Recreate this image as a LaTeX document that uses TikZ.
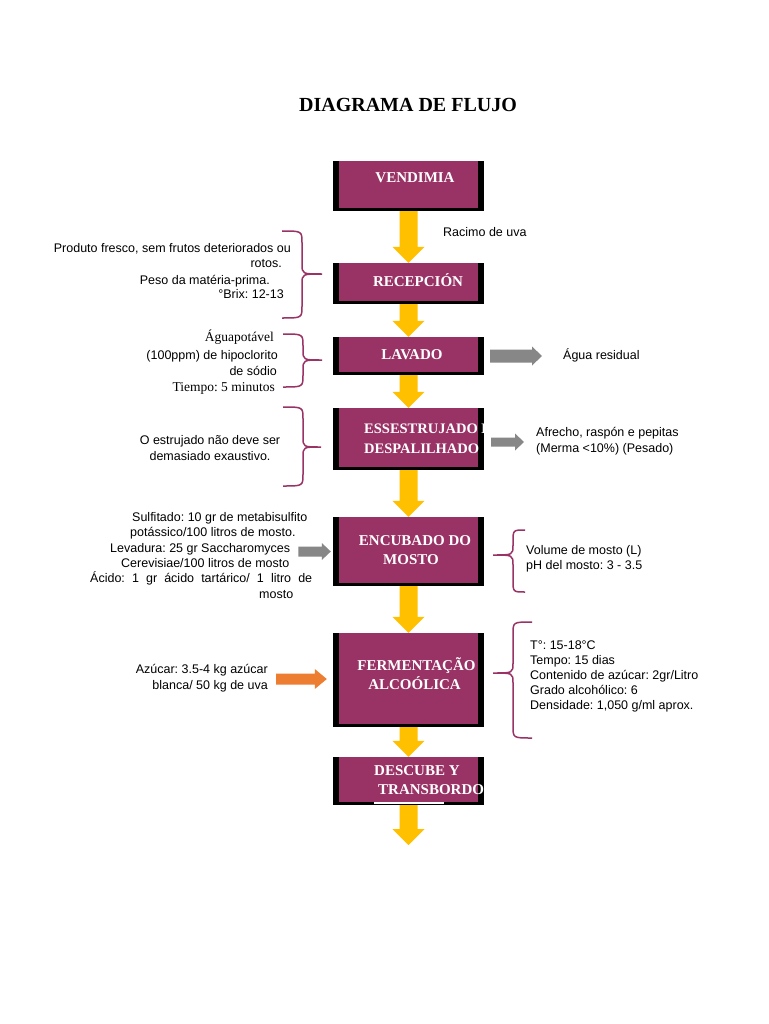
\documentclass[tikz,border=0pt]{standalone}
\usepackage{fontspec}
\setmainfont{Liberation Serif}
\newfontfamily\arialf{Liberation Sans}
\usetikzlibrary{calc}
\definecolor{mag}{RGB}{153,51,102}
\definecolor{yel}{RGB}{255,192,0}
\definecolor{gar}{RGB}{135,135,135}
\definecolor{ora}{RGB}{237,125,49}
\newcommand\yarrow[2]{\fill[yel] let \p1=(#1), \p2=(#2) in (\x1-9pt,\y1) -- (\x1+9pt,\y1) -- (\x1+9pt,\y2+16pt) -- (\x1+16pt,\y2+16pt) -- (\x1,\y2) -- (\x1-16pt,\y2+16pt) -- (\x1-9pt,\y2+16pt) -- cycle;}
\newcommand\harrow[6]{\fill[#1] let \p1=(#2), \p2=(#3) in (\x1,\y1+#4) -- (\x2-#6,\y1+#4) -- (\x2-#6,\y1+#5) -- (\x2,\y1) -- (\x2-#6,\y1-#5) -- (\x2-#6,\y1-#4) -- (\x1,\y1-#4) -- cycle;}
\newcommand\sidebrace[6]{\draw[bracepath] (#1,#4) .. controls (#2,#4) .. (#2,#4+12) -- (#2,#5-10) .. controls (#2,#5) .. (#3,#5) .. controls (#2,#5) .. (#2,#5+10) -- (#2,#6-12) .. controls (#2,#6) .. (#1,#6);}
\frenchspacing
\begin{document}
\frenchspacing
\begin{tikzpicture}[x=1pt,y=-1pt,
 procbox/.style={fill=black, inner sep=0pt, minimum width=151pt, path picture={\fill[mag] ([xshift=6pt]path picture bounding box.north west) rectangle ([xshift=-6pt,yshift=3pt]path picture bounding box.south east);}},
 boxtxt/.style={font=\bfseries\fontsize{15}{18}\selectfont, text=white, inner sep=0pt},
 side/.style={font=\arialf\fontsize{12.5}{15}\selectfont\frenchspacing, inner sep=0pt},
 sideserif/.style={font=\fontsize{13.5}{15}\selectfont\frenchspacing, inner sep=0pt},
 bracepath/.style={draw=mag, line width=1.5pt},
]
\useasboundingbox[fill=white] (0,0) rectangle (768,1024);

\node[font=\bfseries\fontsize{20}{24}\selectfont, anchor=base, inner sep=0pt] (title) at (408,112) {DIAGRAMA DE FLUJO};

% boxes
\node[procbox, minimum height=50pt] (vend) at (408.5,186) {};
\node[procbox, minimum height=41pt] (rec) at (408.5,283.5) {};
\node[procbox, minimum height=38pt] (lav) at (408.5,356) {};
\node[procbox, minimum height=62pt] (ess) at (408.5,439) {};
\node[procbox, minimum height=69pt] (enc) at (408.5,551.5) {};
\node[procbox, minimum height=94pt] (fer) at (408.5,680) {};
\node[procbox, minimum height=48pt] (des) at (408.5,781) {};
\coordinate (endp) at (408.5,845);

% box texts
\node[boxtxt, anchor=base] (vendt) at (415,183) {VENDIMIA};
\node[boxtxt, anchor=base] (rect) at (418,286) {RECEPCIÓN};
\node[boxtxt, anchor=base] (lavt) at (412,359) {LAVADO};
\begin{scope}
\clip (ess.north west) rectangle (ess.south east);
\node[boxtxt, anchor=base west, font=\bfseries\fontsize{14.5}{18}\selectfont] (esst1) at (364,433) {ESSESTRUJADO E};
\node[boxtxt, anchor=base west, font=\bfseries\fontsize{14.5}{18}\selectfont] (esst2) at (364,453) {DESPALILHADO};
\end{scope}
\node[boxtxt, anchor=base] (enct1) at (415,545) {ENCUBADO DO};
\node[boxtxt, anchor=base] (enct2) at (411,564) {MOSTO};
\node[boxtxt, anchor=base] (fert1) at (416.5,670) {FERMENTAÇÃO};
\node[boxtxt, anchor=base] (fert2) at (414.5,689) {ALCOÓLICA};
\begin{scope}
\clip (des.north west) rectangle (des.south east);
\node[boxtxt, anchor=base west] (dest1) at (374,775) {DESCUBE Y};
\node[boxtxt, anchor=base west] (dest2) at (378,794) {TRANSBORDO};
\end{scope}
\draw[white, line width=1.2pt] (374,803) -- (444,803);

% yellow arrows
\yarrow{vend.south}{rec.north}
\yarrow{rec.south}{lav.north}
\yarrow{lav.south}{ess.north}
\yarrow{ess.south}{enc.north}
\yarrow{enc.south}{fer.north}
\yarrow{fer.south}{des.north}
\yarrow{des.south}{endp}

\node[side, anchor=base west] (racimo) at (443,236.5) {Racimo de uva};

% RECEPCION left
\node[side, anchor=base east] (a1) at (291,252.5) {Produto fresco, sem frutos deteriorados ou};
\node[side, anchor=base east] (a2) at (282,267.5) {rotos.};
\node[side, anchor=base east] (a3) at (270,284.5) {Peso da matéria-prima.};
\node[side, anchor=base east] (a4) at (284,298.5) {°Brix: 12-13};
\sidebrace{282}{302}{322}{231}{274}{318}

% LAVADO left
\node[sideserif, anchor=base east] (b1) at (274,341.5) {Águapotável};
\node[side, anchor=base east] (b2) at (278,359.5) {(100ppm) de hipoclorito};
\node[side, anchor=base east] (b3) at (277,375.5) {de sódio};
\node[sideserif, anchor=base east] (b4) at (275,391) {Tiempo: 5 minutos};
\sidebrace{283}{303}{322}{334}{360}{387}

% LAVADO right
\node[side, anchor=base west] (agua) at (563,359) {Água residual};
\harrow{gar}{[xshift=6pt]lav.east}{[xshift=-21pt]agua.west}{6.5pt}{9.5pt}{10pt}

% ESSESTRUJADO left
\node[side, anchor=base] (c1) at (210,444.5) {O estrujado não deve ser};
\node[side, anchor=base] (c2) at (210,460.5) {demasiado exaustivo.};
\sidebrace{283}{303}{321}{407}{447}{486}

% ESSESTRUJADO right
\node[side, anchor=base west] (e1) at (536,436.5) {Afrecho, raspón e pepitas};
\node[side, anchor=base west] (e2) at (536,452.5) {(Merma <10\%) (Pesado)};
\harrow{gar}{[xshift=7pt,yshift=-3pt]ess.east}{[xshift=-12pt,yshift=-3pt]ess.east -| e1.west}{4.5pt}{8.5pt}{9pt}

% ENCUBADO left
\node[side, anchor=base west] (d1) at (132,521.5) {Sulfitado: 10 gr de metabisulfito};
\node[side, anchor=base west] (d2) at (130,536.5) {potássico/100 litros de mosto.};
\node[side, anchor=base west] (d3) at (110,552.5) {Levadura: 25 gr Saccharomyces};
\node[side, anchor=base west] (d4) at (121,567.5) {Cerevisiae/100 litros de mosto};
\node[side, anchor=base west] (d5) at (90,582.5) {\makebox[222pt][s]{Ácido: 1 gr ácido tartárico/ 1 litro de}};
\node[side, anchor=base west] (d6) at (259,598.5) {mosto};
\harrow{gar}{[xshift=8pt]d3.east |- enc.west}{[xshift=-2pt]enc.west}{5pt}{8.5pt}{9pt}

% ENCUBADO right
\node[side, anchor=base west] (f1) at (526,554.5) {Volume de mosto (L)};
\node[side, anchor=base west] (f2) at (526,569.5) {pH del mosto: 3 - 3.5};
\sidebrace{525}{513}{493}{530}{555}{592}

% FERMENTACAO left
\node[side, anchor=base east] (g1) at (268,673.5) {Azúcar: 3.5-4 kg azúcar};
\node[side, anchor=base east] (g2) at (268,689.5) {blanca/ 50 kg de uva};
\harrow{ora}{[xshift=8pt,yshift=1pt]g1.east |- fer.west}{[xshift=-6pt,yshift=1pt]fer.west}{5.5pt}{10pt}{12pt}

% FERMENTACAO right
\node[side, anchor=base west] (h1) at (530,649.5) {T°: 15-18°C};
\node[side, anchor=base west] (h2) at (530,664.5) {Tempo: 15 dias};
\node[side, anchor=base west] (h3) at (530,679.5) {Contenido de azúcar: 2gr/Litro};
\node[side, anchor=base west] (h4) at (530,694.5) {Grado alcohólico: 6};
\node[side, anchor=base west] (h5) at (530,709.5) {Densidade: 1,050 g/ml aprox.};
\sidebrace{532}{513}{493}{622}{673}{738}
\end{tikzpicture}
\end{document}
